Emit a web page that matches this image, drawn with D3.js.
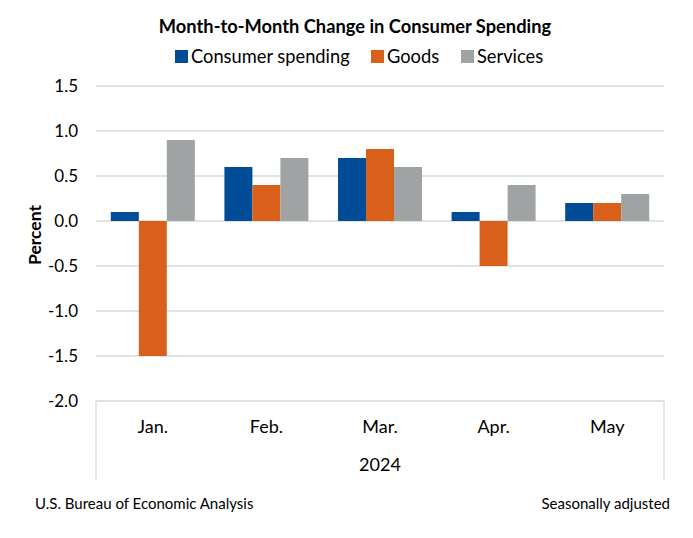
<!DOCTYPE html>
<html><head><meta charset="utf-8">
<script src="https://cdn.jsdelivr.net/npm/d3@7"></script>
<style>body{margin:0;background:#fff;} svg{display:block;font-family:Lato,"Open Sans",sans-serif;}</style>
</head><body><svg id="c" width="693" height="538"></svg>
<script>
const months = ["Jan.", "Feb.", "Mar.", "Apr.", "May"];
const seriesNames = ["Consumer spending", "Goods", "Services"];
const consumerSpending = [0.1, 0.6, 0.7, 0.1, 0.2];
const goods = [-1.5, 0.4, 0.8, -0.5, 0.2];
const services = [0.9, 0.7, 0.6, 0.4, 0.3];
const yTicks = [1.5, 1.0, 0.5, 0.0, -0.5, -1.0, -1.5, -2.0];
const colors = ["#004C97", "#D9601A", "#A0A3A4"];
const seriesVals = [consumerSpending, goods, services];

const svg = d3.select("#c");
const L = 96, R = 664, T = 86, B = 401;
const y = d3.scaleLinear().domain([-2, 1.5]).range([B, T]);
const x0 = d3.scaleBand().domain(months).range([L, R]).paddingInner(0).paddingOuter(0);
const groupW = 84;
const x1 = d3.scaleBand().domain(seriesNames).range([0, groupW]);

// title
svg.append("text").attr("x", 355).attr("y", 33).attr("text-anchor", "middle")
  .attr("font-weight", "bold").attr("font-size", 18.3).text("Month-to-Month Change in Consumer Spending");

// gridlines
svg.append("g").selectAll("line").data(yTicks).join("line")
  .attr("x1", L).attr("x2", R).attr("y1", d => y(d)).attr("y2", d => y(d))
  .attr("stroke", "#d9d9d9").attr("stroke-width", 1.3);

// y axis labels
const fmt = d => d3.format(".1f")(d).replace("\u2212", "-");
const yAxis = d3.axisLeft(y).tickValues(yTicks).tickFormat(fmt).tickSize(0).tickPadding(18);
const ya = svg.append("g").attr("transform", `translate(${L},0)`).call(yAxis);
ya.select(".domain").remove();
ya.selectAll("text").attr("font-size", 17).attr("fill", "#000").attr("font-family", "Lato,sans-serif");

// category box
svg.append("line").attr("x1", L).attr("x2", L).attr("y1", B).attr("y2", 480).attr("stroke", "#d9d9d9").attr("stroke-width", 1.3);
svg.append("line").attr("x1", R).attr("x2", R).attr("y1", B).attr("y2", 480).attr("stroke", "#d9d9d9").attr("stroke-width", 1.3);

// bars
const g = svg.append("g");
seriesNames.forEach((s, si) => {
  g.append("g").selectAll("rect").data(months).join("rect")
    .attr("x", (m) => x0(m) + (x0.bandwidth() - groupW) / 2 + x1(s))
    .attr("width", x1.bandwidth())
    .attr("y", (m, i) => y(Math.max(0, seriesVals[si][i])))
    .attr("height", (m, i) => Math.abs(y(seriesVals[si][i]) - y(0)))
    .attr("fill", colors[si]);
});

// month labels
svg.append("g").selectAll("text").data(months).join("text")
  .attr("x", m => x0(m) + x0.bandwidth() / 2).attr("y", 433).attr("text-anchor", "middle")
  .attr("font-size", 18).text(m => m);
svg.append("text").attr("x", (L + R) / 2).attr("y", 471).attr("text-anchor", "middle").attr("font-size", 18).text("2024");

// y title
svg.append("text").attr("transform", "translate(41,235) rotate(-90)").attr("text-anchor", "middle")
  .attr("font-weight", "bold").attr("font-size", 17.5).text("Percent");

// legend
const legX = [175, 371, 461];
seriesNames.forEach((s, i) => {
  svg.append("rect").attr("x", legX[i]).attr("y", 50).attr("width", 13).attr("height", 13).attr("fill", colors[i]);
  svg.append("text").attr("x", legX[i] + 16).attr("y", 63).attr("font-size", 18.3).text(s);
});

// footer
svg.append("text").attr("x", 35).attr("y", 509).attr("font-size", 15).text("U.S. Bureau of Economic Analysis");
svg.append("text").attr("x", 670).attr("y", 509).attr("text-anchor", "end").attr("font-size", 15).text("Seasonally adjusted");
</script></body></html>
